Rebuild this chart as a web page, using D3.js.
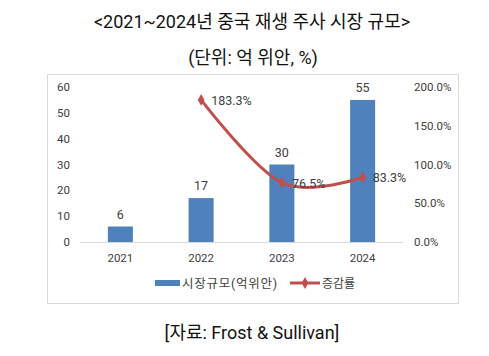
<!DOCTYPE html>
<html>
<head>
<meta charset="utf-8">
<script src="https://cdn.jsdelivr.net/npm/d3@7"></script>
<style>
  body { margin: 0; background: #fff; }
  text { font-family: Roboto, "Noto Sans CJK KR", sans-serif; }
</style>
</head>
<body>
<script>
let years = ["2021", "2022", "2023", "2024"];
let marketSize = [6, 17, 30, 55];
let growthYears = ["2022", "2023", "2024"];
let growthRate = [183.3, 76.5, 83.3];
let leftTicks = [0, 10, 20, 30, 40, 50, 60];
let rightTicks = [0, 50, 100, 150, 200];

let svg = d3.select("body").append("svg").attr("width", 489).attr("height", 356);

svg.append("text").attr("x", 252).attr("y", 28).attr("text-anchor", "middle")
    .attr("font-size", "18px").attr("fill", "#111")
    .text("<2021~2024년 중국 재생 주사 시장 규모>");
svg.append("text").attr("x", 253).attr("y", 64).attr("text-anchor", "middle")
    .attr("font-size", "18px").attr("fill", "#111")
    .text("(단위: 억 위안, %)");

// chart frame
svg.append("rect").attr("x", 47.5).attr("y", 74.5).attr("width", 411).attr("height", 229)
    .attr("fill", "none").attr("stroke", "#d9d9d9");

let x = d3.scaleBand().domain(years).range([80, 403]).paddingInner(0.69).paddingOuter(0.345);
let yL = d3.scaleLinear().domain([0, 60]).range([242, 87]);
let yR = d3.scaleLinear().domain([0, 200]).range([242, 87]);

let g = svg.append("g").attr("font-family", "\"Noto Sans CJK KR\", sans-serif");

// left axis labels
g.selectAll("text.yl").data(leftTicks).enter().append("text")
    .attr("class", "yl").attr("x", 70).attr("y", d => yL(d) + 4)
    .attr("text-anchor", "end").attr("font-size", "11.5px").attr("fill", "#404040")
    .text(d => d);

// right axis labels
g.selectAll("text.yr").data(rightTicks).enter().append("text")
    .attr("class", "yr").attr("x", 414).attr("y", d => yR(d) + 4)
    .attr("font-size", "11.5px").attr("fill", "#404040")
    .text(d => d.toFixed(1) + "%");

// bars
g.selectAll("rect.bar").data(marketSize).enter().append("rect")
    .attr("class", "bar")
    .attr("x", (d, i) => x(years[i])).attr("width", x.bandwidth())
    .attr("y", d => yL(d)).attr("height", d => yL(0) - yL(d))
    .attr("fill", "#4f81bd");

g.selectAll("text.bl").data(marketSize).enter().append("text")
    .attr("class", "bl")
    .attr("x", (d, i) => x(years[i]) + x.bandwidth() / 2).attr("y", d => yL(d) - 8)
    .attr("text-anchor", "middle").attr("font-size", "12.5px").attr("fill", "#404040")
    .text(d => d);

// baseline
g.append("line").attr("x1", 80).attr("x2", 403).attr("y1", 242.5).attr("y2", 242.5)
    .attr("stroke", "#d9d9d9");

// x labels
g.selectAll("text.xl").data(years).enter().append("text")
    .attr("class", "xl").attr("x", d => x(d) + x.bandwidth() / 2).attr("y", 262)
    .attr("text-anchor", "middle").attr("font-size", "11.5px").attr("fill", "#404040")
    .text(d => d);

// growth line (smoothed like the spreadsheet)
let line = d3.line()
    .x((d, i) => x(growthYears[i]) + x.bandwidth() / 2)
    .y(d => yR(d))
    .curve(d3.curveCardinal.tension(0));

g.append("path").attr("d", line(growthRate))
    .attr("fill", "none").attr("stroke", "#c0504d").attr("stroke-width", 3);

let diamond = d3.symbol().type(d3.symbolDiamond).size(40);
g.selectAll("path.mk").data(growthRate).enter().append("path")
    .attr("class", "mk").attr("d", diamond)
    .attr("transform", (d, i) => `translate(${x(growthYears[i]) + x.bandwidth() / 2},${yR(d)})`)
    .attr("fill", "#c0504d");

g.selectAll("text.gl").data(growthRate).enter().append("text")
    .attr("class", "gl")
    .attr("x", (d, i) => x(growthYears[i]) + x.bandwidth() / 2 + 10)
    .attr("y", d => yR(d) + 5)
    .attr("font-size", "12.5px").attr("fill", "#404040")
    .text(d => d.toFixed(1) + "%");

// legend
g.append("rect").attr("x", 155).attr("y", 280).attr("width", 25).attr("height", 6).attr("fill", "#4f81bd");
g.append("text").attr("x", 182).attr("y", 288).attr("font-size", "12.5px").attr("fill", "#404040")
    .attr("textLength", 95).attr("lengthAdjust", "spacing")
    .text("시장규모(억위안)");
g.append("line").attr("x1", 290).attr("x2", 320).attr("y1", 283).attr("y2", 283)
    .attr("stroke", "#c0504d").attr("stroke-width", 3);
g.append("path").attr("d", diamond).attr("transform", "translate(305,283)").attr("fill", "#c0504d");
g.append("text").attr("x", 322).attr("y", 288).attr("font-size", "12px").attr("fill", "#404040")
    .text("증감률");

svg.append("text").attr("x", 252).attr("y", 339).attr("text-anchor", "middle")
    .attr("font-size", "18px").attr("fill", "#111")
    .text("[자료: Frost & Sullivan]");
</script>
</body>
</html>
